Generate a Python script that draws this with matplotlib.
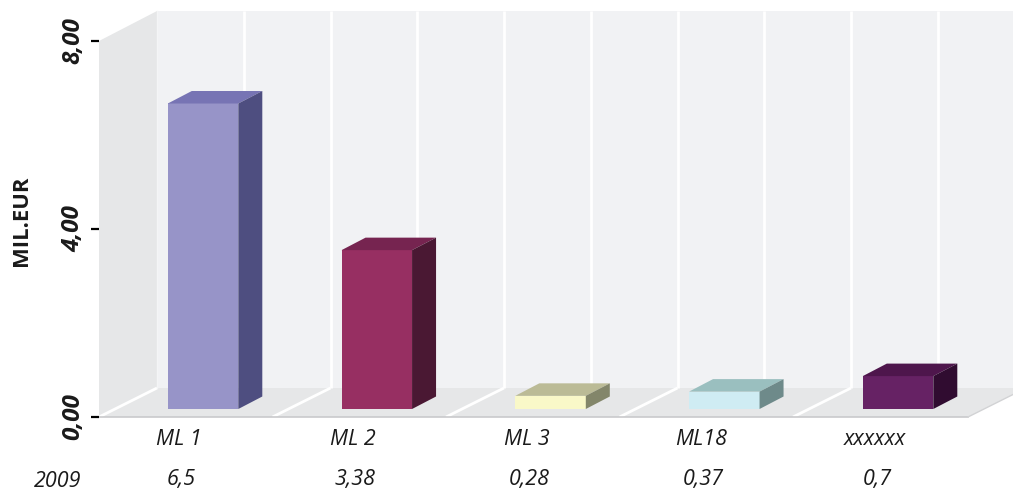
import matplotlib
matplotlib.use('Agg')
import matplotlib.pyplot as plt
from matplotlib.patches import Polygon

plt.rcParams['font.family'] = ['Open Sans', 'DejaVu Sans']

categories = ['ML 1', 'ML 2', 'ML 3', 'ML18', 'xxxxxx']
values = [6.5, 3.38, 0.28, 0.37, 0.7]
value_labels = ['6,5', '3,38', '0,28', '0,37', '0,7']
row_label = '2009'
y_ticks = [0, 4, 8]
y_tick_labels = ['0,00', '4,00', '8,00']

front_colors = ['#9794c8', '#972f62', '#f9f8c8', '#cfecf3', '#662264']
top_colors = ['#7774b4', '#762450', '#bbbb96', '#9abfbf', '#4e164c']
side_colors = ['#4e4e80', '#4a1833', '#83866a', '#6e8a8a', '#300c30']

W, H = 1013, 490
y0_px, px_per_unit = 417, 47


def py(pixel):
    # pixel row -> value units
    return (y0_px - pixel) / px_per_unit


fig = plt.figure(figsize=(W / 100, H / 100), dpi=100)
ax = fig.add_axes([0, 0, 1, 1])
ax.set_xlim(0, W)
ax.set_ylim(py(H), py(0))
ax.axis('off')

# walls and floor
left, right, depth_x = 99, 968, 58
top_val = 8
back_y = py(388)
wall_top = py(11)
ax.add_patch(Polygon([(157, back_y), (W, back_y), (W, wall_top), (157, wall_top)], fc='#f1f2f4', ec='none', zorder=1))
ax.add_patch(Polygon([(left, 0), (157, back_y), (157, wall_top), (left, top_val)], fc='#e6e7e8', ec='none', zorder=1))
ax.add_patch(Polygon([(left, 0), (right, 0), (W, py(394.5)), (W, back_y), (157, back_y)], fc='#e6e7e8', ec='none', zorder=1))

# grid
for i in range(10):
    x = 157 + 86.75 * i
    if i > 0:
        ax.plot([x, x], [back_y, wall_top], color='white', lw=2, solid_capstyle='butt', zorder=2)
    if i % 2 == 0:
        ax.plot([x - depth_x, x], [0, back_y], color='white', lw=2, solid_capstyle='butt', zorder=2)
ax.plot([157, 157], [back_y, wall_top], color='#f4f5f6', lw=1, zorder=2)
ax.plot([left, right], [0, 0], color='#c9cacc', lw=1.2, zorder=2)
ax.plot([right, W], [0, py(394.5)], color='#d2d3d5', lw=1, zorder=2)

# bars
bar_w, step, dx, dy = 70.5, 173.75, 24, 12.5 / px_per_unit
base = py(409)
for i, v in enumerate(values):
    x = 167.8 + step * i
    t = base + v
    ax.add_patch(Polygon([(x, base), (x + bar_w, base), (x + bar_w, t), (x, t)], fc=front_colors[i], ec='none', zorder=3))
    ax.add_patch(Polygon([(x, t), (x + bar_w, t), (x + bar_w + dx, t + dy), (x + dx, t + dy)], fc=top_colors[i], ec='none', zorder=3))
    ax.add_patch(Polygon([(x + bar_w, base), (x + bar_w + dx, base + dy), (x + bar_w + dx, t + dy), (x + bar_w, t)], fc=side_colors[i], ec='none', zorder=3))

# y axis
for v, lab in zip(y_ticks, y_tick_labels):
    ax.plot([91, 99], [v, v], color='black', lw=1.6, solid_capstyle='butt')
    ax.text(73, v, lab, rotation=90, ha='center', va='center', fontsize=17.5,
            fontweight='bold', fontstyle='italic', color='#1a1a1a')
ax.text(22, py(221), 'MIL.EUR', rotation=90, ha='center', va='center', fontsize=15.8,
        fontweight='bold', color='#1a1a1a')

# labels under the chart
for i, (c, lab) in enumerate(zip(categories, value_labels)):
    x = 179 + 174 * i
    ax.text(x, py(439), c, ha='center', va='center', fontsize=15.5, fontstyle='italic', color='#1a1a1a')
    ax.text(x + 2, py(479), lab, ha='center', va='center', fontsize=15.5, fontstyle='italic', color='#1a1a1a')
ax.text(81, py(481), row_label, ha='right', va='center', fontsize=15.5, fontstyle='italic', color='#1a1a1a')

fig.savefig('out.png', dpi=100)
